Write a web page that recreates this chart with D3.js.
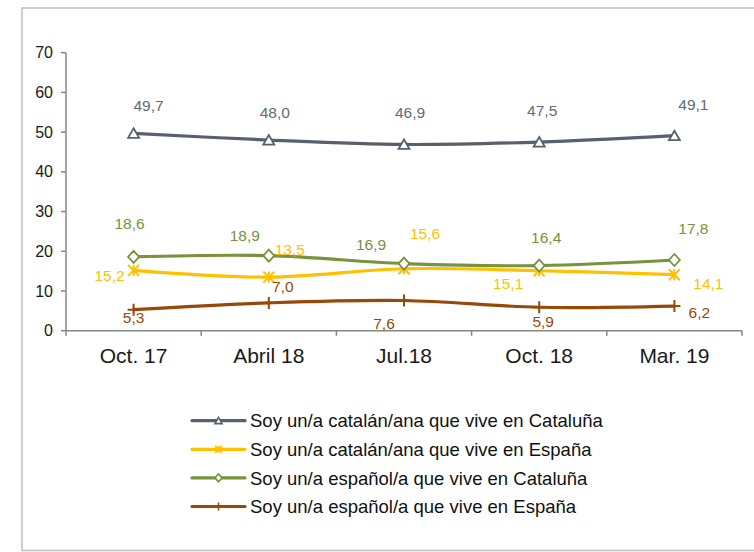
<!DOCTYPE html>
<html>
<head>
<meta charset="utf-8">
<script src="https://cdn.jsdelivr.net/npm/d3@7"></script>
<style>
  body { margin: 0; background: #fff; }
  svg { font-family: "Liberation Sans", Arial, sans-serif; }
</style>
</head>
<body>
<div id="chart"></div>
<script>
// categories and series
var categories = ["Oct. 17", "Abril 18", "Jul.18", "Oct. 18", "Mar. 19"];
var yTicks = [0, 10, 20, 30, 40, 50, 60, 70];

var seriesNames = [
  "Soy un/a catalán/ana que vive en Cataluña",
  "Soy un/a catalán/ana que vive en España",
  "Soy un/a español/a que vive en Cataluña",
  "Soy un/a español/a que vive en España"
];
var catCat = [49.7, 48.0, 46.9, 47.5, 49.1];
var catEsp = [15.2, 13.5, 15.6, 15.1, 14.1];
var espCat = [18.6, 18.9, 16.9, 16.4, 17.8];
var espEsp = [5.3, 7.0, 7.6, 5.9, 6.2];

// label nudges (layout only), [dx, dy] from the point
var labelNudge = [
  [[15, -22], [6, -22], [6, -26], [3, -26], [19, -26]],
  [[-24, 11], [21, -22], [21, -30], [-31, 18], [34, 14]],
  [[-4, -28], [-24, -15], [-33, -14], [7, -23], [19, -26]],
  [[0, 13], [14, -11], [-20, 28], [4, 20], [25, 12]]
];

var colors = ["#56616d", "#ffc000", "#77933c", "#984807"];
var markers = ["triangle", "star", "diamond", "plus"];
var allValues = [catCat, catEsp, espCat, espEsp];

var width = 754, height = 552;

var svg = d3.select("#chart").append("svg")
  .attr("width", width)
  .attr("height", height);

// outer frame
svg.append("rect")
  .attr("x", 22).attr("y", 8)
  .attr("width", 760).attr("height", 542.5)
  .attr("fill", "none")
  .attr("stroke", "#bfbfbf")
  .attr("stroke-width", 1.5);

var x = d3.scaleBand().domain(categories).range([66, 742]);
var y = d3.scaleLinear().domain([0, 70]).range([330.7, 52.7]);
var cx = function (i) { return x(categories[i]) + x.bandwidth() / 2; };

var axisColor = "#868686";

// y axis
svg.append("line")
  .attr("x1", 66).attr("x2", 66)
  .attr("y1", y(70)).attr("y2", y(0))
  .attr("stroke", axisColor).attr("stroke-width", 1.5);

svg.selectAll(".ytick")
  .data(yTicks)
  .enter().append("line")
  .attr("class", "ytick")
  .attr("x1", 61).attr("x2", 66)
  .attr("y1", function (d) { return y(d); })
  .attr("y2", function (d) { return y(d); })
  .attr("stroke", axisColor).attr("stroke-width", 1.5);

svg.selectAll(".ylabel")
  .data(yTicks)
  .enter().append("text")
  .attr("class", "ylabel")
  .attr("x", 53)
  .attr("y", function (d) { return y(d); })
  .attr("dy", "0.35em")
  .attr("text-anchor", "end")
  .attr("font-size", 16)
  .attr("fill", "#1a1a1a")
  .text(function (d) { return d; });

// x axis
svg.append("line")
  .attr("x1", 66).attr("x2", 742)
  .attr("y1", y(0)).attr("y2", y(0))
  .attr("stroke", axisColor).attr("stroke-width", 1.5);

var bounds = categories.map(function (c) { return x(c); }).concat([742]);
svg.selectAll(".xtick")
  .data(bounds)
  .enter().append("line")
  .attr("class", "xtick")
  .attr("x1", function (d) { return d; })
  .attr("x2", function (d) { return d; })
  .attr("y1", y(0)).attr("y2", y(0) + 5)
  .attr("stroke", axisColor).attr("stroke-width", 1.5);

svg.selectAll(".xlabel")
  .data(categories)
  .enter().append("text")
  .attr("class", "xlabel")
  .attr("x", function (d, i) { return cx(i); })
  .attr("y", 363)
  .attr("text-anchor", "middle")
  .attr("font-size", 21)
  .attr("fill", "#1a1a1a")
  .text(function (d) { return d; });

function markerPath(type, s) {
  if (type === "triangle") {
    return "M0," + (-5 * s) + "L" + (5.5 * s) + "," + (4.5 * s) + "L" + (-5.5 * s) + "," + (4.5 * s) + "Z";
  }
  if (type === "diamond") {
    return "M0," + (-6 * s) + "L" + (5.5 * s) + ",0L0," + (6 * s) + "L" + (-5.5 * s) + ",0Z";
  }
  if (type === "star") {
    var a = 5.5 * s;
    return "M" + (-a) + "," + (-a) + "L" + a + "," + a +
      "M" + a + "," + (-a) + "L" + (-a) + "," + a +
      "M0," + (-a) + "L0," + a;
  }
  // plus
  var b = 6 * s;
  return "M0," + (-b) + "L0," + b + "M" + (-b) + ",0L" + b + ",0";
}

var line = d3.line()
  .x(function (d, i) { return cx(i); })
  .y(function (d) { return y(d); })
  .curve(d3.curveCatmullRom.alpha(0.5));

// draw series from bottom to top so slate/green are on top like Excel
var order = [3, 1, 2, 0];
order.forEach(function (s) {
  var g = svg.append("g");
  var vals = allValues[s];
  g.append("path")
    .datum(vals)
    .attr("d", line)
    .attr("fill", "none")
    .attr("stroke", colors[s])
    .attr("stroke-width", 3.2)
    .attr("stroke-linecap", "round");

  var open = markers[s] === "triangle" || markers[s] === "diamond";
  g.selectAll(".mk")
    .data(vals)
    .enter().append("path")
    .attr("class", "mk")
    .attr("transform", function (d, i) { return "translate(" + cx(i) + "," + y(d) + ")"; })
    .attr("d", markerPath(markers[s], 1))
    .attr("fill", open ? "#fff" : "none")
    .attr("stroke", colors[s])
    .attr("stroke-width", open ? 1.8 : 2);
});

// data labels
allValues.forEach(function (vals, s) {
  svg.selectAll(".lbl" + s)
    .data(vals)
    .enter().append("text")
    .attr("class", "lbl" + s)
    .attr("x", function (d, i) { return cx(i) + labelNudge[s][i][0]; })
    .attr("y", function (d, i) { return y(d) + labelNudge[s][i][1]; })
    .attr("text-anchor", "middle")
    .attr("font-size", 15.5)
    .attr("fill", s === 0 ? "#5f6b78" : colors[s])
    .text(function (d) { return d.toFixed(1).replace(".", ","); });
});

// legend
var legend = svg.append("g");
seriesNames.forEach(function (name, s) {
  var ly = 420.7 + s * 28.6;
  var row = legend.append("g");
  row.append("line")
    .attr("x1", 192).attr("x2", 245)
    .attr("y1", ly).attr("y2", ly)
    .attr("stroke", colors[s])
    .attr("stroke-width", 3.2)
    .attr("stroke-linecap", "round");
  var open = markers[s] === "triangle" || markers[s] === "diamond";
  row.append("path")
    .attr("transform", "translate(218.5," + ly + ")")
    .attr("d", markerPath(markers[s], 0.65))
    .attr("fill", open ? "#fff" : "none")
    .attr("stroke", colors[s])
    .attr("stroke-width", 1.6);
  row.append("text")
    .attr("x", 250)
    .attr("y", ly)
    .attr("dy", "0.36em")
    .attr("font-size", 18.5)
    .attr("fill", "#111")
    .text(name);
});
</script>
</body>
</html>
